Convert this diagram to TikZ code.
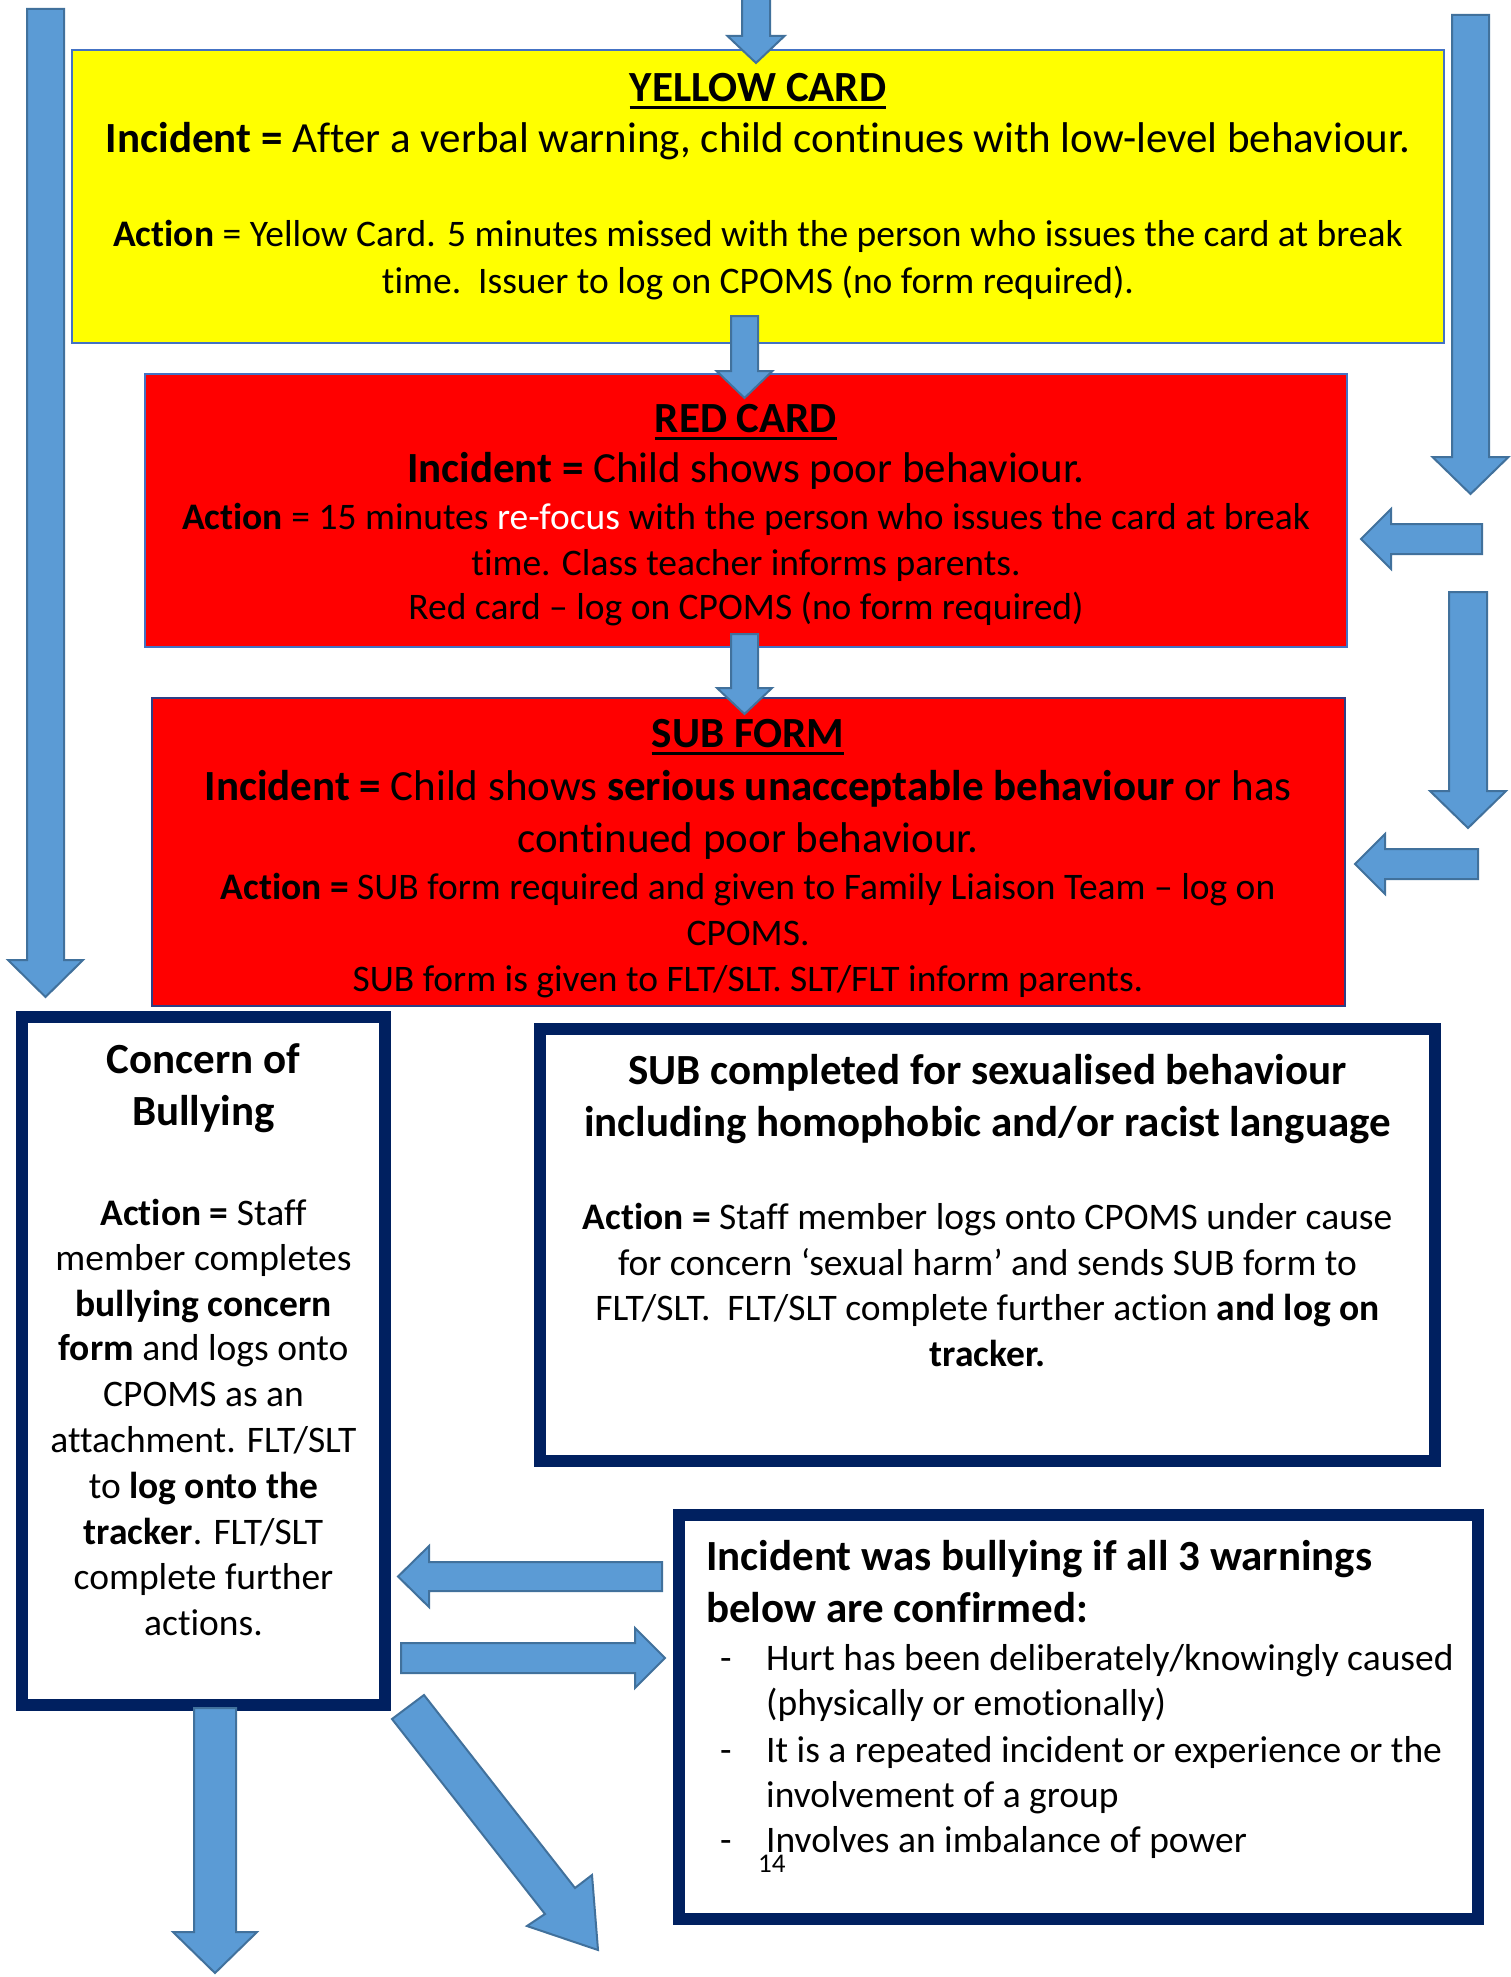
\documentclass[tikz,border=0pt]{standalone}
\usepackage{fontspec}
\setmainfont{Carlito}[Ligatures=NoCommon]
\definecolor{arrfill}{HTML}{5B9BD5}
\definecolor{arrline}{HTML}{41719C}
\definecolor{navy}{HTML}{002060}
\definecolor{cardline}{HTML}{4472C4}
\definecolor{subline}{HTML}{2E3F85}
\definecolor{cardyellow}{HTML}{FFFF00}
\definecolor{cardred}{HTML}{FF0000}
\newcommand\ftitle{\fontsize{43}{51}\selectfont}
\newcommand\fbody{\fontsize{37.5}{45}\selectfont}
\newcommand\fsmall{\fontsize{27}{32}\selectfont}
% vertical block arrow: cx, ytail, yheadbase, ytip, shaft half width, head half width
\newcommand\BAdown[6]{\draw[blockarrow] (#1-#5,#2) -- (#1-#5,#3) -- (#1-#6,#3) -- (#1,#4) -- (#1+#6,#3) -- (#1+#5,#3) -- (#1+#5,#2) -- cycle;}
% horizontal block arrow: cy, xtail, xheadbase, xtip, shaft half width, head half width
\newcommand\BAhoriz[6]{\draw[blockarrow] (#2,#1-#5) -- (#3,#1-#5) -- (#3,#1-#6) -- (#4,#1) -- (#3,#1+#6) -- (#3,#1+#5) -- (#2,#1+#5) -- cycle;}
\begin{document}
\begin{tikzpicture}[x=1pt,y=-1pt,
  blockarrow/.style={fill=arrfill, draw=arrline, line width=2pt, line join=miter},
  cardbox/.style={draw=cardline, line width=2pt, anchor=north west, inner sep=0pt, outer sep=0pt},
  navybox/.style={draw=navy, line width=12pt, fill=white, anchor=north west, inner sep=0pt, outer sep=0pt},
  ln/.style={anchor=base, inner sep=0pt},
  lnl/.style={anchor=base west, inner sep=0pt},
  uline/.style={line width=3pt}]
\useasboundingbox (0,0) rectangle (1511,1977);
\fill[white] (0,0) rectangle (1511,1977);

% ---------- boxes ----------
\node[cardbox, fill=cardyellow, minimum width=1372pt, minimum height=293pt] (yellow) at (72,50) {};
\node[cardbox, fill=cardred, minimum width=1202pt, minimum height=273pt] (red) at (145,374) {};
\node[cardbox, draw=subline, line width=1.5pt, fill=cardred, minimum width=1193pt, minimum height=308pt] (subform) at (152,698) {};
\node[navybox, minimum width=363pt, minimum height=688pt] (concern) at (22,1017) {};
\node[navybox, minimum width=895pt, minimum height=432pt] (subsex) at (540,1029) {};
\node[navybox, minimum width=799pt, minimum height=404pt] (bully) at (679,1515) {};

% ---------- yellow card text ----------
\node[ln, font=\ftitle\bfseries] (ytitle) at (758,102) {YELLOW CARD};
\draw[uline] ([yshift=-6pt]ytitle.base west) -- ([yshift=-6pt]ytitle.base east);
\node[ln, font=\ftitle] (yinc) at (758,153) {\textbf{Incident =} After a verbal warning, child continues with low-level behaviour.};
\node[ln, font=\fbody] (yact1) at (758,247) {\textbf{Action} = Yellow Card. 5 minutes missed with the person who issues the card at break};
\node[ln, font=\fbody] (yact2) at (758,293) {time.\ \ Issuer to log on CPOMS (no form required).};

% ---------- red card text ----------
\node[ln, font=\ftitle\bfseries] (rtitle) at (746,432) {RED CARD};
\draw[uline] ([yshift=-6pt]rtitle.base west) -- ([yshift=-6pt]rtitle.base east);
\node[ln, font=\ftitle] (rinc) at (746,482) {\textbf{Incident =} Child shows poor behaviour.};
\node[ln, font=\fbody] (ract1) at (746,529) {\textbf{Action} = 15 minutes \textcolor{white}{re-focus} with the person who issues the card at break};
\node[ln, font=\fbody] (ract2) at (746,575) {time. Class teacher informs parents.};
\node[ln, font=\fbody] (ract3) at (746,619) {Red card – log on CPOMS (no form required)};

% ---------- SUB form text ----------
\node[ln, font=\ftitle\bfseries] (stitle) at (748,747) {SUB FORM};
\draw[uline] ([yshift=-6pt]stitle.base west) -- ([yshift=-6pt]stitle.base east);
\node[ln, font=\ftitle] (sinc1) at (748,800) {\textbf{Incident =} Child shows \textbf{serious unacceptable behaviour} or has};
\node[ln, font=\ftitle] (sinc2) at (748,852) {continued poor behaviour.};
\node[ln, font=\fbody] (sact1) at (748,899) {\textbf{Action =} SUB form required and given to Family Liaison Team – log on};
\node[ln, font=\fbody] (sact2) at (748,945) {CPOMS.};
\node[ln, font=\fbody] (sact3) at (748,991) {SUB form is given to FLT/SLT. SLT/FLT inform parents.};

% ---------- concern of bullying text ----------
\node[ln, font=\ftitle\bfseries] (c1) at (203.5,1073) {Concern of};
\node[ln, font=\ftitle\bfseries] (c2) at (203.5,1125) {Bullying};
\node[ln, font=\fbody] (c3) at (203.5,1225) {\textbf{Action =} Staff};
\node[ln, font=\fbody] (c4) at (203.5,1270) {member completes};
\node[ln, font=\fbody] (c5) at (203.5,1316) {\textbf{bullying concern}};
\node[ln, font=\fbody] (c6) at (203.5,1360) {\textbf{form} and logs onto};
\node[ln, font=\fbody] (c7) at (203.5,1406) {CPOMS as an};
\node[ln, font=\fbody] (c8) at (203.5,1452) {attachment. FLT/SLT};
\node[ln, font=\fbody] (c9) at (203.5,1498) {to \textbf{log onto the}};
\node[ln, font=\fbody] (c10) at (203.5,1544) {\textbf{tracker}. FLT/SLT};
\node[ln, font=\fbody] (c11) at (203.5,1589) {complete further};
\node[ln, font=\fbody] (c12) at (203.5,1635) {actions.};

% ---------- SUB completed text ----------
\node[ln, font=\ftitle\bfseries] (x1) at (987.5,1084) {SUB completed for sexualised behaviour};
\node[ln, font=\ftitle\bfseries] (x2) at (987.5,1136) {including homophobic and/or racist language};
\node[ln, font=\fbody] (x3) at (987.5,1229) {\textbf{Action =} Staff member logs onto CPOMS under cause};
\node[ln, font=\fbody] (x4) at (987.5,1275) {for concern ‘sexual harm’ and sends SUB form to};
\node[ln, font=\fbody] (x5) at (987.5,1320) {FLT/SLT.\ \ FLT/SLT complete further action \textbf{and log on}};
\node[ln, font=\fbody] (x6) at (987.5,1366) {\textbf{tracker.}};

% ---------- incident was bullying text ----------
\node[lnl, font=\ftitle\bfseries] (b1) at (706,1570) {Incident was bullying if all 3 warnings};
\node[lnl, font=\ftitle\bfseries] (b2) at (706,1622) {below are confirmed:};
\node[lnl, font=\fbody] (d1) at (720,1670) {-};
\node[lnl, font=\fbody] (b3) at (766,1670) {Hurt has been deliberately/knowingly caused};
\node[lnl, font=\fbody] (b4) at (766,1715) {(physically or emotionally)};
\node[lnl, font=\fbody] (d2) at (720,1762) {-};
\node[lnl, font=\fbody] (b5) at (766,1762) {It is a repeated incident or experience or the};
\node[lnl, font=\fbody] (b6) at (766,1807) {involvement of a group};
\node[lnl, font=\fbody] (d3) at (720,1852) {-};
\node[lnl, font=\fbody] (b7) at (766,1852) {Involves an imbalance of power};
\node[lnl, font=\fsmall] (pg) at (758,1872) {14};

% ---------- block arrows ----------
\BAdown{45.5}{9}{960}{997}{18.5}{37.5}
\BAdown{756}{-5}{36}{63}{14}{28.5}
\BAdown{744.5}{316}{371}{398}{13.5}{28}
\BAdown{1470.5}{15}{457}{494}{18.5}{38}
\BAhoriz{539}{1482}{1391}{1361}{15}{30}
\BAdown{744.5}{634}{688}{714}{13.5}{27.5}
\BAdown{1468}{592}{791}{828}{19}{38}
\BAhoriz{864}{1478}{1385}{1355}{15}{30}
\BAhoriz{1576.5}{662}{429}{398}{14.5}{30.5}
\BAhoriz{1658}{401}{635}{665}{15}{30}
\BAdown{215}{1708}{1932}{1973}{21}{42}
\draw[blockarrow] (392,1719) -- (545,1914) -- (527,1926) -- (598,1950) -- (592,1875) -- (575,1888) -- (424,1695) -- cycle;
\end{tikzpicture}
\end{document}
